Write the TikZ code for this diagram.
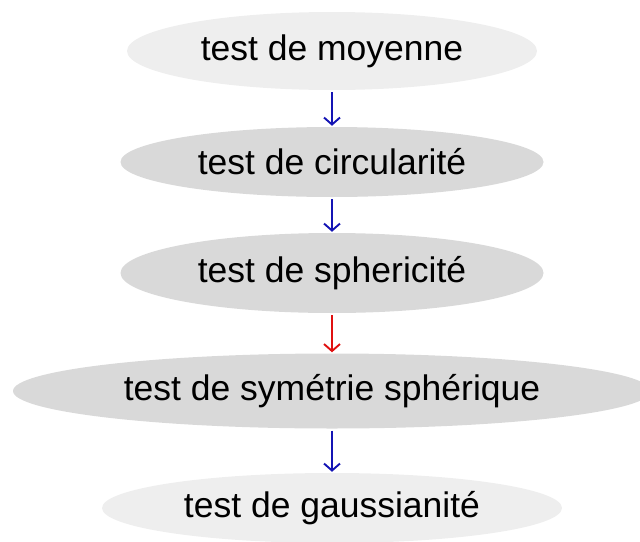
\documentclass[tikz,border=0pt]{standalone}
\usepackage{fontspec}
\setmainfont{Liberation Sans}
\usetikzlibrary{shapes.geometric,arrows.meta}
\definecolor{lightfill}{HTML}{EEEEEE}
\definecolor{darkfill}{HTML}{D9D9D9}
\definecolor{arrblue}{HTML}{1414B4}
\definecolor{arrred}{HTML}{E01010}
\tikzset{
  testnode/.style={ellipse, inner sep=0pt, draw=none, text=black,
    font=\fontsize{35.5}{42}\selectfont},
  lightnode/.style={testnode, fill=lightfill},
  darknode/.style={testnode, fill=darkfill},
  flow/.style={line width=1.9pt, -{Straight Barb[length=7pt,width=16pt]},
    shorten <=2pt, shorten >=1pt}
}
\begin{document}
\begin{tikzpicture}[x=1pt,y=-1pt]
\useasboundingbox (0,0) rectangle (640,541);
\node[lightnode, minimum width=410pt, minimum height=78pt] (m) at (332,51) {test de moyenne};
\node[darknode, minimum width=423pt, minimum height=70pt] (c) at (332,162) {test de circularité};
\node[darknode, minimum width=423pt, minimum height=80pt] (s) at (332,273) {test de sphericité};
\node[darknode, minimum width=638pt, minimum height=75pt] (y) at (332,391) {test de symétrie sphérique};
\node[lightnode, minimum width=460pt, minimum height=70pt] (g) at (332,508) {test de gaussianité};
\draw[flow, arrblue] (m.south) -- (c.north);
\draw[flow, arrblue] (c.south) -- (s.north);
\draw[flow, arrred] (s.south) -- (y.north);
\draw[flow, arrblue] (y.south) -- (g.north);
\end{tikzpicture}
\end{document}
